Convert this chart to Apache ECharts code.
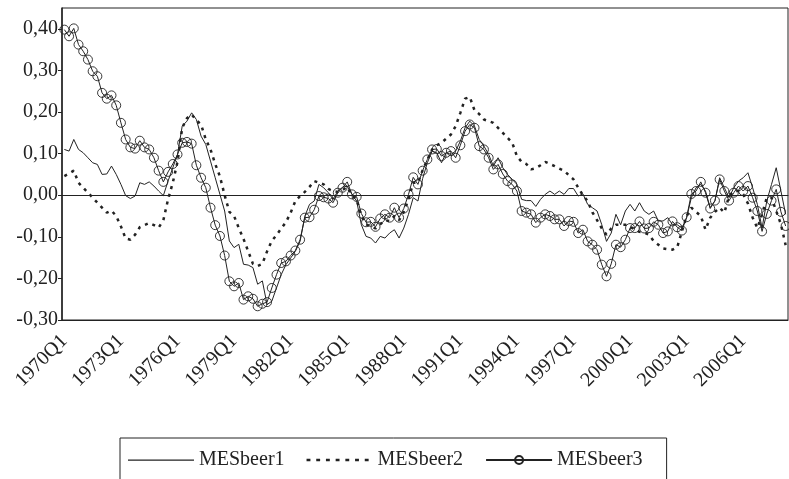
<!DOCTYPE html>
<html>
<head>
<meta charset="utf-8">
<script src="https://cdn.jsdelivr.net/npm/echarts@6/dist/echarts.min.js"></script>
<style>html,body{margin:0;padding:0;background:#fff}#chart{width:789px;height:479px}</style>
</head>
<body>
<div id="chart"></div>
<script>
"use strict";

/*****Data start*****/
var quarters = [];
for (var y = 1970; y <= 2008; y++) {
	for (var q = 1; q <= 4; q++) {
		if (quarters.length < 154) quarters.push(y + 'Q' + q);
	}
}

var mesBeer1 = [
	0.110,0.106,0.134,0.110,0.102,0.090,0.078,0.074,0.050,0.051,
	0.070,0.050,0.026,-0.001,-0.008,-0.002,0.030,0.026,0.032,0.022,
	0.010,-0.001,0.034,0.066,0.098,0.166,0.178,0.198,0.182,0.142,
	0.122,0.082,0.042,0.002,-0.038,-0.110,-0.126,-0.118,-0.166,-0.168,
	-0.174,-0.214,-0.206,-0.263,-0.255,-0.223,-0.191,-0.167,-0.151,-0.135,
	-0.111,-0.051,-0.022,-0.014,0.026,0.018,0.006,-0.010,0.010,0.019,
	0.022,0.002,-0.014,-0.071,-0.099,-0.103,-0.115,-0.099,-0.103,-0.091,
	-0.083,-0.103,-0.079,-0.046,-0.006,-0.014,0.040,0.078,0.106,0.102,
	0.078,0.102,0.098,0.106,0.130,0.162,0.178,0.166,0.134,0.118,
	0.098,0.070,0.090,0.066,0.050,0.038,0.026,-0.010,-0.013,-0.013,
	-0.027,-0.010,0.002,0.010,0.002,0.010,0.002,0.016,0.016,-0.002,
	0.003,-0.022,-0.030,-0.038,-0.071,-0.111,-0.091,-0.046,-0.071,-0.038,
	-0.022,-0.038,-0.018,-0.038,-0.046,-0.038,-0.062,-0.062,-0.054,-0.071,
	-0.071,-0.079,-0.054,-0.006,0.018,0.026,0.010,-0.030,-0.014,0.042,
	0.018,-0.006,0.018,0.034,0.042,0.054,0.018,-0.022,-0.079,-0.014,
	0.026,0.066,0.010,-0.046
];

var mesBeer2 = [
	0.046,0.052,0.059,0.030,0.018,0.006,-0.006,-0.018,-0.030,-0.042,
	-0.037,-0.050,-0.075,-0.104,-0.107,-0.095,-0.077,-0.072,-0.067,-0.072,
	-0.078,-0.060,-0.010,0.030,0.080,0.162,0.185,0.194,0.180,0.170,
	0.134,0.110,0.075,0.045,0.000,-0.040,-0.050,-0.079,-0.105,-0.135,
	-0.165,-0.170,-0.165,-0.135,-0.110,-0.096,-0.080,-0.065,-0.042,-0.014,
	-0.002,0.008,0.020,0.034,0.030,0.026,0.015,0.010,0.008,0.012,
	0.020,0.000,-0.010,-0.050,-0.070,-0.075,-0.080,-0.070,-0.060,-0.062,
	-0.050,-0.060,-0.040,-0.010,0.030,0.030,0.060,0.085,0.110,0.120,
	0.126,0.136,0.146,0.166,0.198,0.232,0.236,0.204,0.195,0.182,
	0.178,0.174,0.162,0.150,0.138,0.126,0.094,0.080,0.075,0.062,
	0.065,0.072,0.080,0.075,0.070,0.064,0.059,0.048,0.038,0.018,
	0.000,-0.014,-0.041,-0.060,-0.080,-0.095,-0.080,-0.071,-0.071,-0.071,
	-0.075,-0.083,-0.088,-0.090,-0.095,-0.110,-0.119,-0.128,-0.130,-0.131,
	-0.125,-0.087,-0.050,-0.030,-0.040,-0.050,-0.083,-0.054,-0.040,-0.030,
	-0.042,-0.002,0.010,0.010,0.002,-0.020,-0.054,-0.079,-0.046,-0.006,
	-0.006,-0.038,-0.070,-0.120
];

var mesBeer3 = [
	0.398,0.382,0.401,0.362,0.346,0.326,0.298,0.286,0.246,0.232,
	0.240,0.216,0.174,0.134,0.115,0.112,0.131,0.115,0.110,0.090,
	0.059,0.032,0.056,0.075,0.098,0.126,0.128,0.124,0.072,0.042,
	0.018,-0.030,-0.072,-0.098,-0.145,-0.207,-0.219,-0.211,-0.251,-0.243,
	-0.249,-0.267,-0.261,-0.257,-0.223,-0.191,-0.163,-0.159,-0.145,-0.133,
	-0.107,-0.054,-0.053,-0.035,-0.002,-0.005,-0.008,-0.018,0.006,0.018,
	0.032,0.002,-0.004,-0.044,-0.065,-0.064,-0.076,-0.056,-0.046,-0.054,
	-0.030,-0.054,-0.032,0.002,0.043,0.026,0.059,0.086,0.110,0.111,
	0.094,0.102,0.106,0.090,0.120,0.154,0.170,0.162,0.118,0.110,
	0.090,0.062,0.074,0.051,0.034,0.026,0.010,-0.038,-0.042,-0.046,
	-0.066,-0.054,-0.046,-0.050,-0.058,-0.058,-0.074,-0.062,-0.064,-0.091,
	-0.083,-0.111,-0.119,-0.131,-0.167,-0.195,-0.165,-0.119,-0.125,-0.107,
	-0.079,-0.079,-0.063,-0.080,-0.079,-0.064,-0.071,-0.091,-0.087,-0.063,
	-0.077,-0.085,-0.053,0.003,0.010,0.032,0.006,-0.032,-0.013,0.038,
	0.010,-0.013,0.006,0.022,0.010,0.022,-0.006,-0.038,-0.087,-0.045,
	-0.013,0.014,-0.040,-0.074
];
/*****Data end*****/

var font = "Liberation Serif";
var ink = '#222';
var legendText = { fontFamily: font, fontSize: 20, color: ink };

// legend icons: tiny corner dots keep the 66x10 box so the stroke stays thin
var solidIcon = 'path://M0 0h.01v.01H0zM68 10h.01v.01H68zM0 4.4h68v1.3H0z';
var dotIcon = 'path://M0 0h.01v.01H0zM68 10h.01v.01H68z' +
	'M0 3.7h4v2.6H0zM10 3.7h4v2.6h-4zM20 3.7h4v2.6h-4zM30 3.7h4v2.6h-4zM40 3.7h4v2.6h-4zM50 3.7h4v2.6h-4zM60 3.7h4v2.6h-4z';

var chart = echarts.init(document.getElementById('chart'));
var option = {
	animation: false,
	textStyle: { fontFamily: font },
	grid: {
		left: 62, right: 1, top: 8, bottom: 159,
		show: true, borderColor: ink, borderWidth: 1
	},
	legend: {
		left: 120, top: 438,
		padding: [12, 24, 14, 8],
		itemGap: 22, itemWidth: 66, itemHeight: 10,
		borderColor: ink, borderWidth: 1,
		textStyle: legendText,
		data: [
			{ name: 'MESbeer1', icon: solidIcon, textStyle: legendText },
			{ name: 'MESbeer2', icon: dotIcon, textStyle: legendText },
			{ name: 'MESbeer3', textStyle: legendText }
		]
	},
	xAxis: [
		{
			type: 'category',
			data: quarters,
			boundaryGap: true,
			axisLine: { onZero: false, lineStyle: { color: ink } },
			axisTick: { length: 6, lineStyle: { color: ink }, interval: function (i) { return i % 8 === 6; } },
			axisLabel: {
				interval: 11, rotate: 45, margin: 18,
				fontFamily: font, fontSize: 20, color: ink
			}
		},
		{
			type: 'category',
			data: quarters,
			position: 'bottom',
			boundaryGap: true,
			axisLine: { onZero: true, lineStyle: { color: ink } },
			axisTick: { length: 7, lineStyle: { color: ink }, interval: function (i) { return i > 0 && i % 8 === 0; } },
			axisLabel: { show: false }
		}
	],
	yAxis: {
		type: 'value',
		min: -0.3, max: 0.45, interval: 0.1,
		splitLine: { show: false },
		axisLine: { show: true, lineStyle: { color: ink, width: 1.5 } },
		axisTick: { show: true, length: 4, lineStyle: { color: ink } },
		axisLabel: {
			showMaxLabel: false, margin: 4,
			fontFamily: font, fontSize: 20, color: ink,
			formatter: function (v) { return v > 0.41 ? '' : v.toFixed(2).replace('.', ','); }
		}
	},
	series: [
		{
			name: 'MESbeer1', type: 'line', data: mesBeer1,
			showSymbol: false, symbol: 'none',
			lineStyle: { color: ink, width: 1 }, itemStyle: { color: ink }
		},
		{
			name: 'MESbeer2', type: 'line', data: mesBeer2,
			showSymbol: false, symbol: 'none',
			lineStyle: { color: ink, width: 2.5, type: [3, 5] }, itemStyle: { color: ink }
		},
		{
			name: 'MESbeer3', type: 'line', data: mesBeer3,
			symbol: 'circle', symbolSize: 9, showAllSymbol: true,
			lineStyle: { color: ink, width: 1 },
			itemStyle: { color: 'rgba(255,255,255,0)', borderColor: ink, borderWidth: 0.9 }
		}
	]
};
chart.setOption(option);
</script>
</body>
</html>
